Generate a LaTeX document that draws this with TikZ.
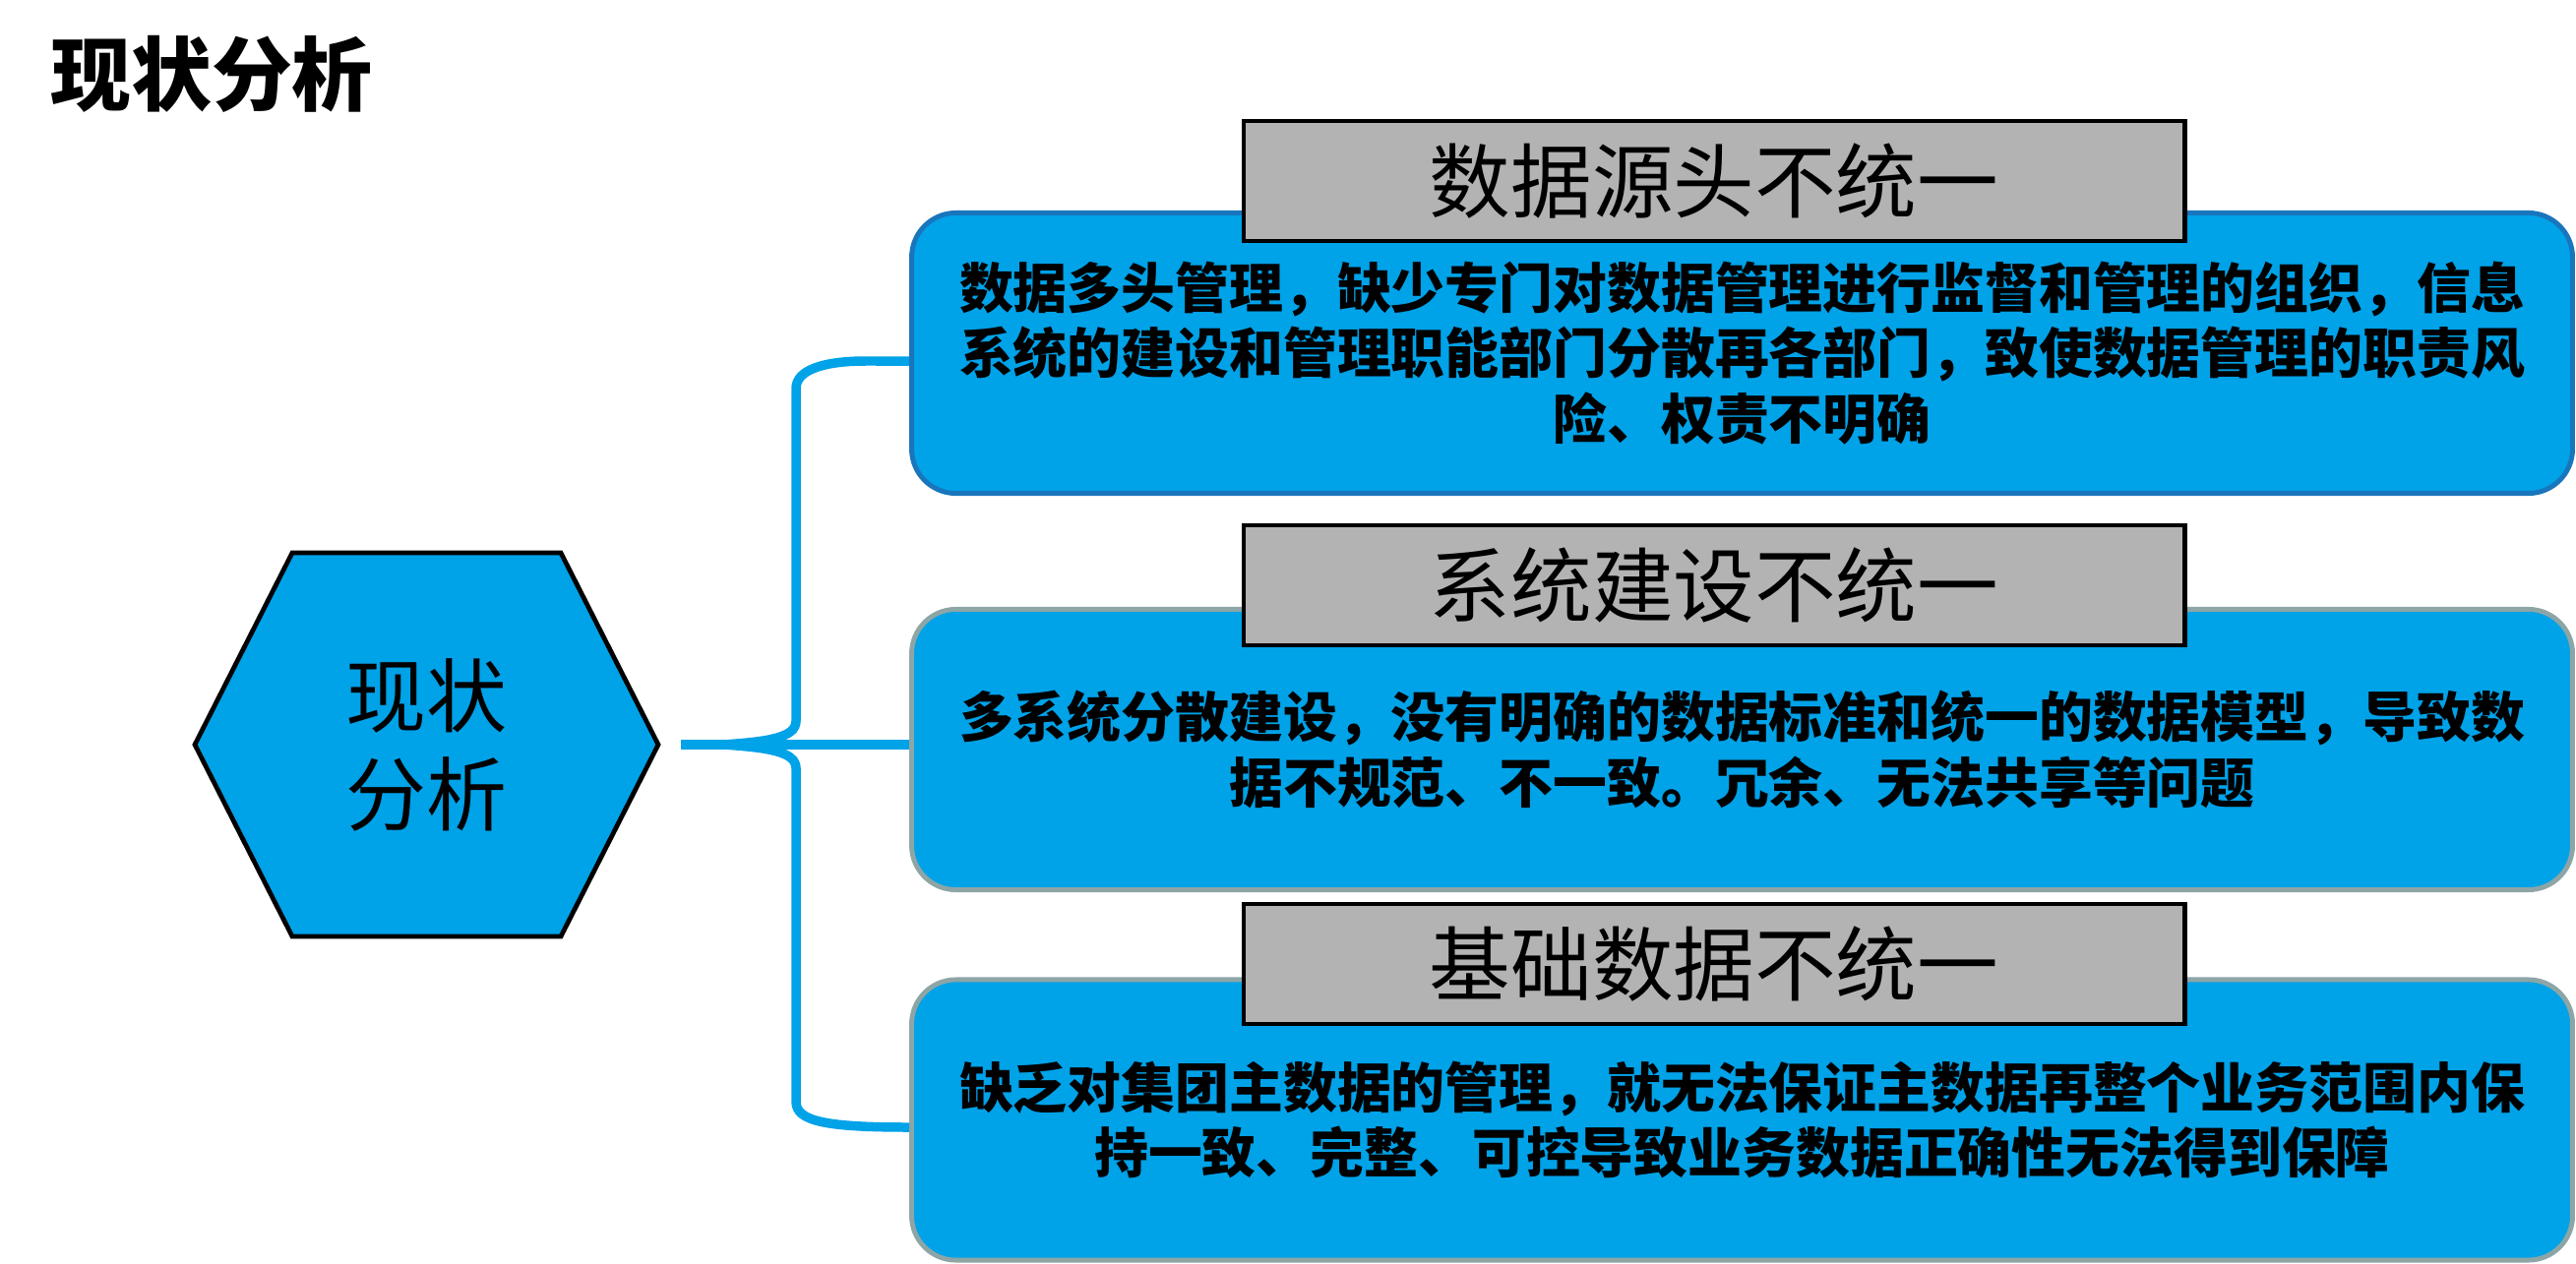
\documentclass[tikz,border=0pt]{standalone}
\usepackage{fontspec}
\newfontfamily\cjk{Noto Sans CJK SC}
\usepackage{tikz}

\definecolor{skyfill}{RGB}{0,162,232}
\definecolor{edgeblue}{RGB}{25,117,188}
\definecolor{edgegray}{RGB}{142,165,166}
\definecolor{labelgray}{RGB}{179,179,179}

\begin{document}
\begin{tikzpicture}[
  x=0.01cm, y=-0.01cm,
  card/.style={draw=edgegray, fill=skyfill, rounded corners=0.45cm, line width=1.4pt, minimum width=16.87cm, minimum height=2.85cm, align=center, inner sep=0pt, font=\cjk\bfseries\fontsize{15.6pt}{19pt}\selectfont},
  headbox/.style={draw=black, fill=labelgray, line width=1.25pt, minimum width=9.56cm, minimum height=1.22cm, inner sep=0pt, font=\cjk\fontsize{23.5pt}{28pt}\selectfont},
  bigtext/.style={inner sep=0pt, align=center, font=\cjk\fontsize{23.3pt}{28.45pt}\selectfont},
  link/.style={draw=skyfill, line width=2.7pt}
]
\useasboundingbox (0,0) rectangle (2618,1285);

\node[bigtext, font=\cjk\bfseries\fontsize{23.3pt}{28pt}\selectfont] (title) at (215,75) {现状分析};

% hexagon
\draw[fill=skyfill, line width=1.35pt, line join=miter]
  (198,757) -- (297,562) -- (570,562) -- (669,757) -- (570,952) -- (297,952) -- cycle;
\node[bigtext] (hex) at (433.5,757) {现状\\分析};
\coordinate (tip) at (692,757);

% right column
\node[card, draw=edgeblue] (b1) at (1770.5,359) {数据多头管理，缺少专门对数据管理进行监督和管理的组织，信息\\系统的建设和管理职能部门分散再各部门，致使数据管理的职责风\\险、权责不明确};
\node[card] (b2) at (1770.5,762) {多系统分散建设，没有明确的数据标准和统一的数据模型，导致数\\据不规范、不一致。冗余、无法共享等问题};
\node[card] (b3) at (1770.5,1138.5) {缺乏对集团主数据的管理，就无法保证主数据再整个业务范围内保\\持一致、完整、可控导致业务数据正确性无法得到保障};

\node[headbox] (h1) at (1742,184) {数据源头不统一};
\node[headbox] (h2) at (1742,595) {系统建设不统一};
\node[headbox] (h3) at (1742,980) {基础数据不统一};

% brace
\draw[link] ([yshift=-0.08cm]b1.west) -- (880,367)
  .. controls (840,367) and (809,375) .. (809,395) -- (809,733)
  .. controls (809,750) and (780,754) .. (735,757)
  .. controls (780,760) and (809,764) .. (809,781) -- (809,1120)
  .. controls (809,1140) and (840,1146) .. ([yshift=-0.075cm]b3.west);
\draw[link] (tip) -- (tip -| b2.west);
\end{tikzpicture}
\end{document}
